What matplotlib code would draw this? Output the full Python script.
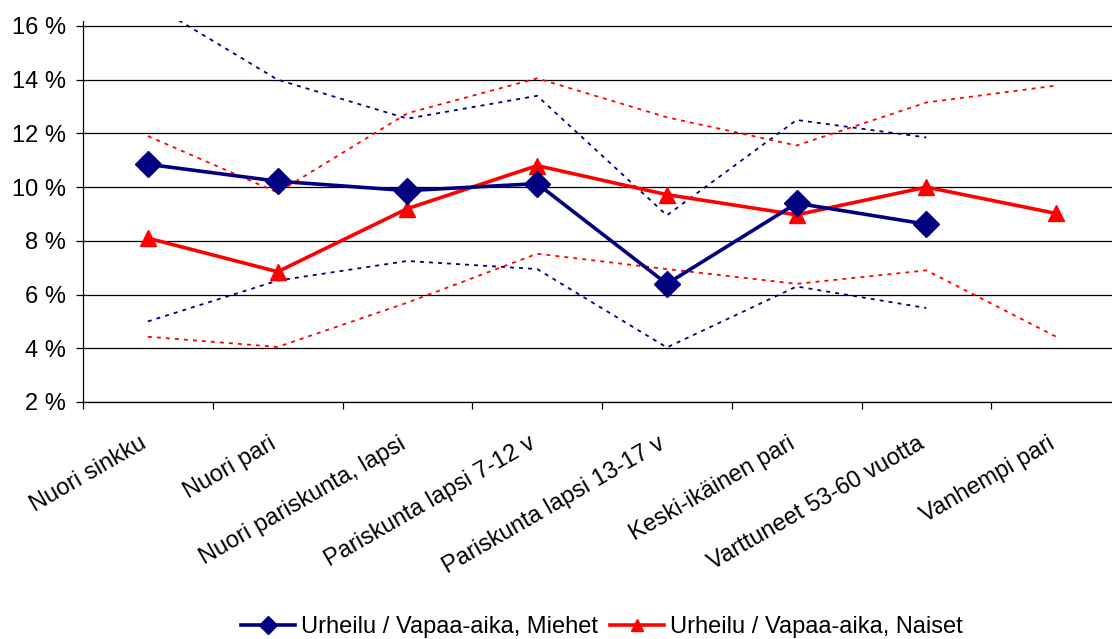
import numpy as np
import matplotlib.pyplot as plt
import matplotlib.transforms as mtransforms
from matplotlib.lines import Line2D

plt.rcParams['font.family'] = ['Liberation Sans', 'DejaVu Sans']

categories = ["Nuori sinkku", "Nuori pari", "Nuori pariskunta, lapsi",
              "Pariskunta lapsi 7-12 v", "Pariskunta lapsi 13-17 v",
              "Keski-ikäinen pari", "Varttuneet 53-60 vuotta", "Vanhempi pari"]

miehet = [10.85, 10.22, 9.87, 10.13, 6.40, 9.40, 8.62, np.nan]
miehet_ylä = [16.9, 14.0, 12.55, 13.4, 8.95, 12.5, 11.85, np.nan]
miehet_ala = [5.0, 6.52, 7.25, 6.95, 4.03, 6.3, 5.5, np.nan]

naiset = [8.1, 6.85, 9.2, 10.8, 9.72, 8.97, 10.0, 9.02]
naiset_ylä = [11.9, 9.8, 12.75, 14.05, 12.6, 11.55, 13.15, 13.78]
naiset_ala = [4.43, 4.05, 5.7, 7.52, 6.95, 6.4, 6.9, 4.43]

yticks = [2, 4, 6, 8, 10, 12, 14, 16]

blue = '#000080'
red = '#ff0000'

fig = plt.figure(figsize=(11.12, 6.39), dpi=100)
W, H = 1112, 639
ax = fig.add_axes([83 / W, (H - 402) / H, (1121 - 83) / W, (402 - 20.6) / H])

x = np.arange(len(categories))

for v in yticks:
    ax.axhline(v, color='black', lw=0.9, zorder=1)

dots = (0, (2.2, 2.8))
ax.plot(x, miehet_ylä, color=blue, lw=1.3, ls=dots, zorder=2)
ax.plot(x, miehet_ala, color=blue, lw=1.3, ls=dots, zorder=2)
ax.plot(x, naiset_ylä, color=red, lw=1.3, ls=dots, zorder=2)
ax.plot(x, naiset_ala, color=red, lw=1.3, ls=dots, zorder=2)

ax.plot(x, miehet, color=blue, lw=2.6, marker='D', ms=13, zorder=4)
ax.plot(x, naiset, color=red, lw=2.6, marker='^', ms=12, zorder=3)

ax.set_xlim(-0.5, 7.5)
ax.set_ylim(2, 16.2)
ax.set_yticks(yticks)
ax.set_yticklabels([f"{v} %" for v in yticks], fontsize=17)
ax.tick_params(axis='y', length=5, width=0.9, pad=7)

ax.set_xticks(np.arange(-0.5, 8, 1), minor=True)
ax.set_xticks(x)
ax.set_xticklabels(categories, fontsize=17, rotation=30, ha='right',
                   rotation_mode='anchor')
ax.tick_params(axis='x', which='major', length=0, pad=22)
ax.tick_params(axis='x', which='minor', length=5, width=0.9)
offset = mtransforms.ScaledTranslation(-0.09, 0, fig.dpi_scale_trans)
for lab in ax.get_xticklabels():
    lab.set_transform(lab.get_transform() + offset)

for s in ['top', 'right']:
    ax.spines[s].set_visible(False)
ax.spines['left'].set_linewidth(0.9)
ax.spines['bottom'].set_linewidth(0.9)

handles = [Line2D([], [], color=blue, lw=2.6, marker='D', ms=9),
           Line2D([], [], color=red, lw=2.6, marker='^', ms=9)]
fig.legend(handles, ["Urheilu / Vapaa-aika, Miehet", "Urheilu / Vapaa-aika, Naiset"],
           loc='center', bbox_to_anchor=(602 / W, 12 / H), ncol=2, frameon=False,
           fontsize=17, handlelength=2.3, handletextpad=0.25, columnspacing=0.5)

fig.savefig('out.png', dpi=100)
